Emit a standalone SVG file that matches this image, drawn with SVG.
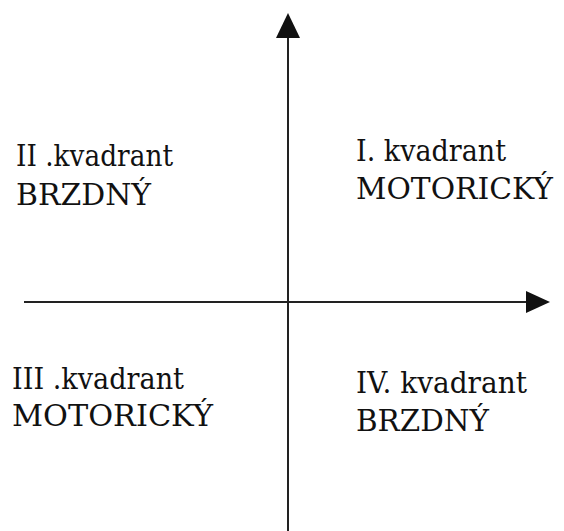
<svg xmlns="http://www.w3.org/2000/svg" width="564" height="531" viewBox="0 0 564 531">
<style>
.t{font-family:"DejaVu Serif","Liberation Serif",serif;font-size:29px;fill:#111}
.ax{stroke:#222;stroke-width:2;fill:none}
.hd{fill:#111}
</style>
<rect width="564" height="531" fill="#fff"/>
<g id="connectors">
<line class="ax" x1="288" y1="34" x2="288" y2="531"/>
<polygon class="hd" points="288,13 300,38 276,38"/>
<line class="ax" x1="24" y1="302" x2="528" y2="302"/>
<polygon class="hd" points="550,302 526,291 526,313"/>
</g>
<g id="q2"><text class="t" x="16" y="166" textLength="157" lengthAdjust="spacingAndGlyphs">II .kvadrant</text><text class="t" x="16" y="205" textLength="135" lengthAdjust="spacingAndGlyphs">BRZDNÝ</text></g>
<g id="q1"><text class="t" x="356" y="161" textLength="150" lengthAdjust="spacingAndGlyphs">I. kvadrant</text><text class="t" x="356" y="199" textLength="197" lengthAdjust="spacingAndGlyphs">MOTORICKÝ</text></g>
<g id="q3"><text class="t" x="12" y="389" textLength="172" lengthAdjust="spacingAndGlyphs">III .kvadrant</text><text class="t" x="12" y="426" textLength="201" lengthAdjust="spacingAndGlyphs">MOTORICKÝ</text></g>
<g id="q4"><text class="t" x="356" y="393" textLength="171" lengthAdjust="spacingAndGlyphs">IV. kvadrant</text><text class="t" x="356" y="431" textLength="133" lengthAdjust="spacingAndGlyphs">BRZDNÝ</text></g>
</svg>
